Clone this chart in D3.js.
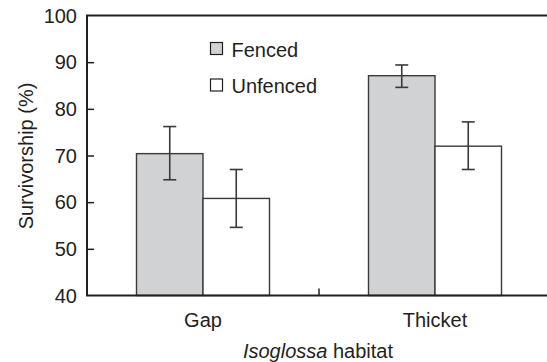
<!DOCTYPE html>
<html>
  <head>
    <meta charset="utf-8">
    <style>
      html, body {
        margin: 0px;
        padding: 0px;
        background: #fff;
      }
      svg {
        display: block;
      }
      text {
        font-family: "Liberation Sans", Arial, sans-serif;
        fill: #231f20;
      }
    </style>
  </head>
  <body>
    <svg id="chart" width="547" height="362"></svg>
    <script src="https://cdn.jsdelivr.net/npm/d3@7"></script>
    <script>
      // data
      var habitats = ["Gap", "Thicket"];
      var seriesNames = ["Fenced", "Unfenced"];
      var fencedMean = [70.4, 87.1];
      var fencedLow = [64.8, 84.6];
      var fencedHigh = [76.2, 89.4];
      var unfencedMean = [60.8, 72.0];
      var unfencedLow = [54.6, 67.0];
      var unfencedHigh = [67.0, 77.2];
      var yTicks = [40, 50, 60, 70, 80, 90, 100];
      var seriesFill = ["#d1d2d4", "#ffffff"];

      var rows = [];
      habitats.forEach(function (h, i) {
        rows.push({ habitat: h, series: "Fenced", mean: fencedMean[i], lo: fencedLow[i], hi: fencedHigh[i] });
        rows.push({ habitat: h, series: "Unfenced", mean: unfencedMean[i], lo: unfencedLow[i], hi: unfencedHigh[i] });
      });

      var ink = "#231f20";
      var fs = 20;
      var plotL = 87, plotR = 547, plotT = 15.5, plotB = 295.5;
      var svg = d3.select("#chart");

      var y = d3.scaleLinear().domain([40, 100]).range([plotB, plotT]);
      var x0 = d3.scaleBand().domain(habitats).range([plotL, 551]).padding(0);
      var barW = 66.5;
      var x1 = d3.scaleBand().domain(seriesNames)
        .range([x0.bandwidth() / 2 - barW, x0.bandwidth() / 2 + barW]).padding(0);
      var color = d3.scaleOrdinal().domain(seriesNames).range(seriesFill);

      // bars
      svg.append("g").selectAll("rect")
        .data(rows)
        .join("rect")
        .attr("x", function (d) { return x0(d.habitat) + x1(d.series); })
        .attr("y", function (d) { return y(d.mean); })
        .attr("width", x1.bandwidth())
        .attr("height", function (d) { return y(40) - y(d.mean); })
        .attr("fill", function (d) { return color(d.series); })
        .attr("stroke", "#3a3a3a")
        .attr("stroke-width", 1.4);

      // error bars
      var err = svg.append("g").attr("stroke", "#3a3a3a").attr("stroke-width", 1.6);
      rows.forEach(function (d) {
        var cx = x0(d.habitat) + x1(d.series) + x1.bandwidth() / 2;
        err.append("line").attr("x1", cx).attr("x2", cx).attr("y1", y(d.lo)).attr("y2", y(d.hi));
        err.append("line").attr("x1", cx - 6.5).attr("x2", cx + 6.5).attr("y1", y(d.lo)).attr("y2", y(d.lo));
        err.append("line").attr("x1", cx - 6.5).attr("x2", cx + 6.5).attr("y1", y(d.hi)).attr("y2", y(d.hi));
      });

      // y axis, ticks inward
      var yAxis = svg.append("g")
        .attr("transform", "translate(" + plotL + ",0)")
        .call(d3.axisRight(y).tickValues(yTicks.slice(1, -1)).tickSize(7).tickFormat(""));
      yAxis.select(".domain").remove();
      yAxis.selectAll("line").attr("stroke", ink).attr("stroke-width", 1.5);

      svg.append("g").selectAll("text")
        .data(yTicks)
        .join("text")
        .attr("x", plotL - 10)
        .attr("y", function (d) { return y(d); })
        .attr("dy", "0.36em")
        .attr("text-anchor", "end")
        .attr("font-size", fs)
        .text(function (d) { return d; });

      // frame: left, top, bottom
      svg.append("path")
        .attr("d", "M" + plotR + "," + plotT + "H" + plotL + "V" + plotB + "H" + plotR)
        .attr("fill", "none")
        .attr("stroke", ink)
        .attr("stroke-width", 2);

      // category separator tick on x axis
      svg.append("line")
        .attr("x1", x0("Thicket")).attr("x2", x0("Thicket"))
        .attr("y1", plotB).attr("y2", plotB - 7)
        .attr("stroke", ink).attr("stroke-width", 1.5);

      // x labels
      svg.append("g").selectAll("text")
        .data(habitats)
        .join("text")
        .attr("x", function (d) { return x0(d) + x0.bandwidth() / 2; })
        .attr("y", 327)
        .attr("text-anchor", "middle")
        .attr("font-size", fs)
        .text(function (d) { return d; });

      var xt = svg.append("text")
        .attr("x", 318)
        .attr("y", 358)
        .attr("text-anchor", "middle")
        .attr("font-size", fs);
      xt.append("tspan").attr("font-style", "italic").text("Isoglossa");
      xt.append("tspan").text(" habitat");

      svg.append("text")
        .attr("transform", "translate(33,156) rotate(-90)")
        .attr("text-anchor", "middle")
        .attr("font-size", fs)
        .text("Survivorship (%)");

      // legend
      var legend = svg.append("g").selectAll("g")
        .data(seriesNames)
        .join("g")
        .attr("transform", function (d, i) { return "translate(210.5," + (42.5 + i * 36.5) + ")"; });
      legend.append("rect")
        .attr("width", 12).attr("height", 12)
        .attr("fill", function (d) { return color(d); })
        .attr("stroke", ink).attr("stroke-width", 1.2);
      legend.append("text")
        .attr("x", 21).attr("y", 14)
        .attr("font-size", fs)
        .text(function (d) { return d; });
    </script>
  </body>
</html>
